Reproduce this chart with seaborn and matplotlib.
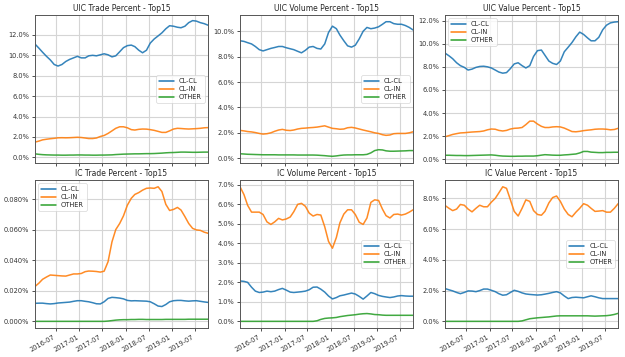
import numpy as np
import pandas as pd
import seaborn as sns
import matplotlib.dates as mdates
from matplotlib import ticker
from matplotlib import pyplot as plt

months = pd.date_range('2016-01-01', periods=46, freq='MS') + pd.Timedelta(days=14)
series_names = ['CL-CL', 'CL-IN', 'OTHER']

# UIC trade percent
uic_trade_clcl = [11.1, 10.7, 10.3, 9.9, 9.55, 9.1, 8.95, 9.1, 9.4, 9.6, 9.75, 9.9, 9.75, 9.75, 9.95, 10.0,
                  9.95, 10.05, 10.15, 10.05, 9.85, 9.95, 10.35, 10.75, 10.95, 11.0, 10.85, 10.5, 10.25, 10.5,
                  11.2, 11.6, 11.9, 12.2, 12.6, 12.9, 12.85, 12.75, 12.7, 12.85, 13.2, 13.4, 13.35, 13.2, 13.1, 12.95]
uic_trade_clin = [1.5, 1.6, 1.72, 1.78, 1.83, 1.87, 1.92, 1.93, 1.92, 1.93, 1.95, 1.97, 1.95, 1.9, 1.85, 1.85,
                  1.9, 2.05, 2.15, 2.35, 2.6, 2.85, 3.0, 3.0, 2.9, 2.72, 2.68, 2.75, 2.78, 2.77,
                  2.72, 2.65, 2.55, 2.45, 2.45, 2.6, 2.78, 2.85, 2.83, 2.8, 2.78, 2.8, 2.82, 2.85, 2.9, 2.92]
uic_trade_other = [0.35, 0.3, 0.27, 0.25, 0.24, 0.23, 0.23, 0.22, 0.22, 0.23, 0.23, 0.24, 0.24, 0.23, 0.23, 0.22,
                   0.22, 0.23, 0.23, 0.24, 0.25, 0.28, 0.3, 0.32, 0.33, 0.34, 0.35, 0.35, 0.36, 0.37,
                   0.37, 0.38, 0.4, 0.42, 0.45, 0.47, 0.48, 0.5, 0.52, 0.52, 0.51, 0.5, 0.5, 0.51, 0.52, 0.52]

# UIC volume percent
uic_volume_clcl = [9.25, 9.2, 9.1, 9.0, 8.8, 8.55, 8.45, 8.55, 8.65, 8.72, 8.8, 8.8, 8.7, 8.62, 8.55, 8.42,
                   8.3, 8.5, 8.75, 8.8, 8.65, 8.6, 9.0, 9.9, 10.4, 10.2, 9.7, 9.25, 8.85, 8.75,
                   8.9, 9.4, 10.0, 10.3, 10.2, 10.25, 10.35, 10.55, 10.75, 10.75, 10.6, 10.55, 10.55, 10.45, 10.3, 10.1]
uic_volume_clin = [2.19, 2.15, 2.1, 2.07, 2.02, 1.95, 1.9, 1.93, 2.0, 2.12, 2.22, 2.27, 2.2, 2.18, 2.22, 2.3,
                   2.35, 2.37, 2.4, 2.42, 2.45, 2.5, 2.55, 2.45, 2.35, 2.32, 2.28, 2.3, 2.4, 2.43,
                   2.38, 2.3, 2.22, 2.15, 2.08, 2.0, 1.95, 1.85, 1.8, 1.83, 1.93, 1.95, 1.95, 1.95, 2.0, 2.08]
uic_volume_other = [0.35, 0.33, 0.31, 0.3, 0.29, 0.28, 0.27, 0.27, 0.27, 0.27, 0.26, 0.26, 0.26, 0.26, 0.26, 0.25,
                    0.25, 0.25, 0.25, 0.25, 0.24, 0.22, 0.2, 0.17, 0.15, 0.18, 0.22, 0.25, 0.26, 0.26,
                    0.27, 0.27, 0.27, 0.3, 0.42, 0.6, 0.67, 0.65, 0.58, 0.55, 0.55, 0.56, 0.57, 0.58, 0.6, 0.6]

# UIC value percent
uic_value_clcl = [9.18, 8.95, 8.7, 8.35, 8.1, 7.95, 7.72, 7.8, 7.95, 8.03, 8.05, 8.0, 7.9, 7.72, 7.55, 7.45,
                  7.5, 7.85, 8.25, 8.35, 8.1, 7.9, 8.1, 8.9, 9.4, 9.45, 9.0, 8.5, 8.3, 8.2,
                  8.5, 9.3, 9.7, 10.1, 10.6, 11.0, 10.8, 10.5, 10.25, 10.25, 10.55, 11.2, 11.6, 11.8, 11.87, 11.9]
uic_value_clin = [1.95, 2.05, 2.15, 2.22, 2.28, 2.3, 2.33, 2.36, 2.38, 2.4, 2.45, 2.55, 2.62, 2.6, 2.5, 2.45,
                  2.5, 2.62, 2.68, 2.7, 2.75, 3.0, 3.3, 3.3, 3.05, 2.85, 2.75, 2.75, 2.8, 2.82,
                  2.8, 2.7, 2.55, 2.4, 2.38, 2.42, 2.48, 2.52, 2.55, 2.6, 2.62, 2.62, 2.6, 2.55, 2.58, 2.68]
uic_value_other = [0.35, 0.35, 0.34, 0.33, 0.33, 0.32, 0.32, 0.33, 0.34, 0.35, 0.36, 0.37, 0.38, 0.35, 0.31, 0.28,
                   0.27, 0.26, 0.26, 0.27, 0.27, 0.28, 0.28, 0.28, 0.31, 0.36, 0.4, 0.38, 0.36, 0.35,
                   0.35, 0.38, 0.4, 0.43, 0.46, 0.55, 0.68, 0.68, 0.62, 0.6, 0.58, 0.58, 0.6, 0.6, 0.61, 0.61]

# IC trade percent
ic_trade_clcl = [0.0118, 0.0119, 0.0119, 0.0116, 0.0114, 0.0116, 0.012, 0.0122, 0.0124, 0.0126, 0.0131, 0.0135,
                 0.0135, 0.0131, 0.0128, 0.0122, 0.0115, 0.0114, 0.0128, 0.015, 0.0157, 0.0155, 0.0152, 0.0147,
                 0.0137, 0.0134, 0.0135, 0.0134, 0.0133, 0.0132, 0.0128, 0.0115, 0.01, 0.0097, 0.011, 0.0128,
                 0.0135, 0.0137, 0.0137, 0.0134, 0.0132, 0.0134, 0.0135, 0.0131, 0.0127, 0.0124]
ic_trade_clin = [0.0228, 0.025, 0.0275, 0.029, 0.0303, 0.0301, 0.0299, 0.0297, 0.0296, 0.0303, 0.031, 0.031,
                 0.0313, 0.0325, 0.0329, 0.0328, 0.0326, 0.0322, 0.0328, 0.039, 0.052, 0.06, 0.064, 0.069,
                 0.076, 0.0805, 0.083, 0.0842, 0.0858, 0.087, 0.0872, 0.087, 0.088, 0.0849, 0.0765, 0.0725,
                 0.0732, 0.0745, 0.0728, 0.0685, 0.064, 0.0608, 0.0598, 0.0595, 0.0583, 0.0576]
ic_trade_other = [0.0, 0.0, 0.0, 0.0, 0.0, 0.0, 0.0, 0.0, 0.0, 0.0, 0.0, 0.0,
                  0.0, 0.0, 0.0, 0.0, 0.0, 0.0, 0.0, 0.0002, 0.0005, 0.0008, 0.001, 0.0011,
                  0.0011, 0.0012, 0.0012, 0.0013, 0.0013, 0.0012, 0.0012, 0.0012, 0.0012, 0.0012, 0.0013, 0.0013,
                  0.0013, 0.0013, 0.0013, 0.0013, 0.0014, 0.0014, 0.0014, 0.0014, 0.0014, 0.0014]

# IC volume percent
ic_volume_clcl = [2.07, 2.05, 2.0, 1.75, 1.55, 1.48, 1.5, 1.55, 1.52, 1.55, 1.63, 1.69, 1.6, 1.5, 1.48, 1.5,
                  1.52, 1.55, 1.62, 1.75, 1.76, 1.65, 1.5, 1.3, 1.15, 1.22, 1.31, 1.35, 1.4, 1.45,
                  1.4, 1.28, 1.14, 1.3, 1.48, 1.42, 1.33, 1.28, 1.25, 1.22, 1.25, 1.3, 1.32, 1.3, 1.29, 1.29]
ic_volume_clin = [6.9, 6.5, 5.95, 5.6, 5.6, 5.6, 5.48, 5.1, 4.97, 5.1, 5.28, 5.2, 5.25, 5.35, 5.62, 6.0,
                  6.05, 5.9, 5.55, 5.4, 5.48, 5.45, 4.85, 4.1, 3.75, 4.3, 5.05, 5.5, 5.72, 5.72,
                  5.48, 5.08, 4.97, 5.3, 6.1, 6.23, 6.2, 5.75, 5.42, 5.3, 5.48, 5.5, 5.45, 5.5, 5.6, 5.72]
ic_volume_other = [0.0, 0.0, 0.0, 0.0, 0.0, 0.0, 0.0, 0.0, 0.0, 0.0, 0.0, 0.0, 0.0, 0.0, 0.0, 0.0,
                   0.0, 0.0, 0.0, 0.0, 0.03, 0.1, 0.15, 0.17, 0.18, 0.2, 0.24, 0.27, 0.3, 0.32,
                   0.34, 0.37, 0.39, 0.4, 0.38, 0.35, 0.34, 0.32, 0.31, 0.31, 0.31, 0.31, 0.31, 0.31, 0.31, 0.31]

# IC value percent
ic_value_clcl = [2.13, 2.05, 1.98, 1.88, 1.8, 1.88, 1.98, 1.97, 1.93, 2.0, 2.1, 2.1, 2.02, 1.93, 1.8, 1.7,
                 1.73, 1.88, 2.02, 1.95, 1.85, 1.78, 1.75, 1.73, 1.71, 1.73, 1.77, 1.82, 1.88, 1.93,
                 1.85, 1.65, 1.48, 1.55, 1.57, 1.55, 1.53, 1.6, 1.66, 1.6, 1.53, 1.48, 1.48, 1.48, 1.48, 1.48]
ic_value_clin = [7.53, 7.35, 7.2, 7.3, 7.6, 7.55, 7.3, 7.12, 7.35, 7.55, 7.45, 7.45, 7.75, 8.0, 8.35, 8.75,
                 8.65, 7.9, 7.15, 6.85, 7.35, 7.9, 7.8, 7.2, 6.95, 6.9, 7.15, 7.7, 8.05, 8.15,
                 7.8, 7.3, 6.95, 6.8, 7.1, 7.35, 7.65, 7.55, 7.35, 7.15, 7.17, 7.2, 7.1, 7.1, 7.35, 7.65]
ic_value_other = [0.0, 0.0, 0.0, 0.0, 0.0, 0.0, 0.0, 0.0, 0.0, 0.0, 0.0, 0.0, 0.0, 0.0, 0.0, 0.0,
                  0.0, 0.0, 0.0, 0.0, 0.03, 0.1, 0.17, 0.2, 0.23, 0.25, 0.27, 0.29, 0.32, 0.35,
                  0.36, 0.36, 0.36, 0.36, 0.36, 0.36, 0.36, 0.36, 0.35, 0.34, 0.35, 0.36, 0.37, 0.4, 0.45, 0.52]

titles = ['UIC Trade Percent - Top15', 'UIC Volume Percent - Top15', 'UIC Value Percent - Top15',
          'IC Trade Percent - Top15', 'IC Volume Percent - Top15', 'IC Value Percent - Top15']
panels = [
    (uic_trade_clcl, uic_trade_clin, uic_trade_other),
    (uic_volume_clcl, uic_volume_clin, uic_volume_other),
    (uic_value_clcl, uic_value_clin, uic_value_other),
    (ic_trade_clcl, ic_trade_clin, ic_trade_other),
    (ic_volume_clcl, ic_volume_clin, ic_volume_other),
    (ic_value_clcl, ic_value_clin, ic_value_other),
]
legend_locs = ['center right', 'center right', 'upper left', 'upper left', 'center right', 'center right']
decimals = [1, 1, 1, 3, 1, 1]

sns.set_style('whitegrid', {'axes.edgecolor': '#555555', 'grid.color': '#d5d5d5',
                            'xtick.bottom': True, 'ytick.left': True})
plt.rcParams['font.family'] = ['DejaVu Sans']
plt.rcParams['xtick.major.size'] = 2.5
plt.rcParams['ytick.major.size'] = 2.5
plt.rcParams['xtick.major.width'] = 0.6
plt.rcParams['ytick.major.width'] = 0.6
plt.rcParams['xtick.major.pad'] = 1.5
plt.rcParams['ytick.major.pad'] = 1.5

fig, axes = plt.subplots(2, 3, sharex=True, figsize=(6.25, 3.57), dpi=100)

for k, ax in enumerate(axes.flat):
    clcl, clin, other = panels[k]
    df = pd.DataFrame({
        'date': list(months) * 3,
        'value': list(clcl) + list(clin) + list(other),
        'series': [s for s in series_names for _ in range(len(months))],
    })
    sns.lineplot(data=df, x='date', y='value', hue='series', ax=ax, linewidth=1.1,
                 palette=['#1f77b4', '#ff7f0e', '#2ca02c'])
    ax.set_title(titles[k], fontsize=5.5, pad=3)
    ax.set_xlabel('')
    ax.set_ylabel('')
    ax.yaxis.set_major_formatter(ticker.PercentFormatter(xmax=100, decimals=decimals[k]))
    ax.tick_params(labelsize=4.8, colors='#333333')
    for sp in ax.spines.values():
        sp.set_linewidth(0.7)
    leg = ax.legend(loc=legend_locs[k], fontsize=4.8, frameon=True, handlelength=2.2,
                    borderpad=0.4, labelspacing=0.3)
    leg.get_frame().set_linewidth(0.5)
    leg.get_frame().set_edgecolor('#cccccc')
    for line in ax.lines:
        line.set_alpha(0.9)

axes[0, 0].set_ylim(-0.55, 13.95)

ax0 = axes[0, 0]
ax0.set_xlim(months[0], months[-1])
ax0.xaxis.set_major_locator(mdates.MonthLocator(bymonth=(1, 7)))
ax0.xaxis.set_major_formatter(mdates.DateFormatter('%Y-%m'))

fig.autofmt_xdate()
fig.subplots_adjust(left=0.056, right=0.989, top=0.958, bottom=0.081, wspace=0.185, hspace=0.115)

plt.savefig('out.png', dpi=100)
